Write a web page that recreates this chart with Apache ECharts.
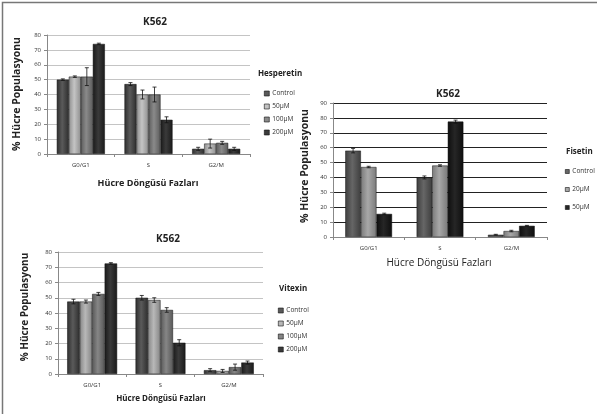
<!DOCTYPE html>
<html>
<head>
<meta charset="utf-8">
<script src="https://cdn.jsdelivr.net/npm/echarts@6/dist/echarts.min.js"></script>
<style>html,body{margin:0;padding:0;background:#fff}#c{width:597px;height:414px}</style>
</head>
<body>
<div id="c"></div>
<script>
const categories = ['G0/G1', 'S', 'G2/M'];

// Hesperetin
const hespNames = ['Control', '50µM', '100µM', '200µM'];
const hespControl = [50, 47, 3.5];
const hesp50 = [52, 40, 7];
const hesp100 = [52, 40, 7.5];
const hesp200 = [74, 23, 3.5];
const hespControlErr = [0.5, 1, 1];
const hesp50Err = [0.5, 3, 3];
const hesp100Err = [6, 5, 1];
const hesp200Err = [0.5, 2, 1];

// Fisetin
const fisNames = ['Control', '20µM', '50µM'];
const fisControl = [58, 40, 1.5];
const fis20 = [47, 48, 4];
const fis50 = [15.5, 77.5, 7.5];
const fisControlErr = [1.5, 1, 0.3];
const fis20Err = [0.5, 0.5, 0.5];
const fis50Err = [0.5, 1, 0.3];

// Vitexin
const vitNames = ['Control', '50µM', '100µM', '200µM'];
const vitControl = [47.5, 50, 2.5];
const vit50 = [47.5, 48.5, 2];
const vit100 = [52.5, 42, 4.5];
const vit200 = [72.5, 20.5, 7.5];
const vitControlErr = [1.5, 1.5, 1];
const vit50Err = [1, 1.5, 1];
const vit100Err = [1, 1.5, 2];
const vit200Err = [0.5, 2, 1];

const FONT = 'Open Sans';

function grad(base, light) {
  return {type: 'linear', x: 0, y: 0, x2: 1, y2: 0, colorStops: [
    {offset: 0, color: base}, {offset: 0.45, color: light}, {offset: 1, color: base}]};
}

const groups = [
  {key: 'H', grid: 0, gap: 0.29, names: hespNames, vals: [hespControl, hesp50, hesp100, hesp200],
   errs: [hespControlErr, hesp50Err, hesp100Err, hesp200Err],
   colors: [['#2e2e2e', '#5a5a5a'], ['#8e8e8e', '#c4c4c4'], ['#5c5c5c', '#8a8a8a'], ['#1a1a1a', '#3a3a3a']]},
  {key: 'F', grid: 1, gap: 0.345, names: fisNames, vals: [fisControl, fis20, fis50],
   errs: [fisControlErr, fis20Err, fis50Err],
   colors: [['#3e3e3e', '#666666'], ['#7a7a7a', '#a8a8a8'], ['#0e0e0e', '#262626']]},
  {key: 'V', grid: 2, gap: 0.27, names: vitNames, vals: [vitControl, vit50, vit100, vit200],
   errs: [vitControlErr, vit50Err, vit100Err, vit200Err],
   colors: [['#2e2e2e', '#5a5a5a'], ['#858585', '#b8b8b8'], ['#585858', '#868686'], ['#1a1a1a', '#3a3a3a']]}
];

const series = [];
groups.forEach(g => {
  const n = g.names.length;
  g.names.forEach((nm, i) => {
    series.push({
      type: 'bar', name: g.key + '|' + nm, xAxisIndex: g.grid, yAxisIndex: g.grid,
      data: g.vals[i], barGap: '0%', barCategoryGap: (g.gap * 100) + '%',
      itemStyle: {color: grad(g.colors[i][0], g.colors[i][1]), borderColor: '#111', borderWidth: 0.5},
      legendHoverLink: false, animation: false
    });
  });
  g.names.forEach((nm, i) => {
    series.push({
      type: 'custom', xAxisIndex: g.grid, yAxisIndex: g.grid, z: 5, animation: false,
      data: g.vals[i].map((v, k) => [k, v, g.errs[i][k]]),
      renderItem: (params, api) => {
        const x = api.value(0), v = api.value(1), e = api.value(2);
        const band = api.size([1, 0])[0];
        const inner = band * (1 - g.gap);
        const bw = inner / n;
        const c = api.coord([x, v]);
        const cx = c[0] - inner / 2 + bw * (i + 0.5);
        const top = api.coord([x, v + e])[1];
        const bot = api.coord([x, v - e])[1];
        const cap = 2;
        const st = {stroke: '#111', lineWidth: 0.8};
        return {type: 'group', children: [
          {type: 'line', shape: {x1: cx, y1: top, x2: cx, y2: bot}, style: st},
          {type: 'line', shape: {x1: cx - cap, y1: top, x2: cx + cap, y2: top}, style: st},
          {type: 'line', shape: {x1: cx - cap, y1: bot, x2: cx + cap, y2: bot}, style: st}
        ]};
      }
    });
  });
});

const gridDefs = [
  {left: 47, right: 347, top: 35, bottom: 260, max: 80, gridColor: '#c4c4c4'},
  {left: 333, right: 50, top: 103, bottom: 177, max: 90, gridColor: '#222222'},
  {left: 58, right: 334, top: 252, bottom: 40, max: 80, gridColor: '#c4c4c4'}
];

const xAxes = gridDefs.map((d, i) => ({
  type: 'category', gridIndex: i, data: categories,
  axisLine: {lineStyle: {color: '#888', width: 1}},
  axisTick: {show: true, length: 3, lineStyle: {color: '#888'}},
  axisLabel: {fontFamily: FONT, fontSize: 6, color: '#333', margin: 8}
}));
const yAxes = gridDefs.map((d, i) => ({
  type: 'value', gridIndex: i, min: 0, max: d.max, interval: 10,
  axisLine: {show: true, lineStyle: {color: '#888'}},
  axisTick: {show: true, length: 3, lineStyle: {color: '#888'}},
  splitLine: {lineStyle: {color: d.gridColor, width: i === 1 ? 1.2 : 1}},
  axisLabel: {fontFamily: FONT, fontSize: 6, color: '#333', margin: 6}
}));

function legendDef(g, left, top, gap, icon) {
  return {
    orient: 'vertical', left: left, top: top, itemGap: gap, itemWidth: icon, itemHeight: icon,
    icon: 'rect', selectedMode: false,
    data: g.names.map((n, i) => ({name: g.key + '|' + n, itemStyle: {color: g.colors[i][1], borderColor: '#111', borderWidth: 0.6}})),
    formatter: name => name.split('|')[1],
    textStyle: {fontFamily: FONT, fontSize: 6.5, color: '#333', padding: [0, 0, 0, -2]}
  };
}

const titleStyle = {fontFamily: FONT, fontSize: 10, fontWeight: 'bold', color: '#222'};
const legTitleStyle = {fontFamily: FONT, fontSize: 8, fontWeight: 'bold', color: '#222'};

const option = {
  animation: false,
  backgroundColor: '#fff',
  title: [
    {text: 'K562', left: 150, top: 12, textAlign: 'center', textStyle: titleStyle},
    {text: 'K562', left: 443, top: 84, textAlign: 'center', textStyle: titleStyle},
    {text: 'K562', left: 163, top: 229, textAlign: 'center', textStyle: titleStyle},
    {text: 'Hesperetin', left: 253, top: 65, textStyle: legTitleStyle},
    {text: 'Fisetin', left: 561, top: 143, textStyle: legTitleStyle},
    {text: 'Vitexin', left: 274, top: 280, textStyle: legTitleStyle}
  ],
  legend: [
    legendDef(groups[0], 259, 85, 6, 5),
    legendDef(groups[1], 560, 163, 11, 4),
    legendDef(groups[2], 273, 302, 6, 5)
  ],
  grid: gridDefs.map(d => ({left: d.left, right: d.right, top: d.top, bottom: d.bottom})),
  xAxis: xAxes,
  yAxis: yAxes,
  series: series,
  graphic: [
    {type: 'rect', shape: {x: 2.5, y: 2.5, width: 700, height: 600}, style: {fill: 'none', stroke: '#777', lineWidth: 1.5}, silent: true},
    {type: 'text', x: 148, y: 183, style: {text: 'Hücre Döngüsü Fazları', font: 'bold 9px "Open Sans"', fill: '#222', align: 'center', verticalAlign: 'middle'}},
    {type: 'text', x: 439, y: 263, style: {text: 'Hücre Döngüsü Fazları', font: '10px "Open Sans"', fill: '#222', align: 'center', verticalAlign: 'middle'}},
    {type: 'text', x: 161, y: 399, style: {text: 'Hücre Döngüsü Fazları', font: 'bold 8px "Open Sans"', fill: '#222', align: 'center', verticalAlign: 'middle'}},
    {type: 'text', x: 17, y: 94, rotation: Math.PI / 2, style: {text: '% Hücre Populasyonu', font: 'bold 10.5px "Open Sans"', fill: '#222', align: 'center', verticalAlign: 'middle'}},
    {type: 'text', x: 305, y: 166, rotation: Math.PI / 2, style: {text: '% Hücre Populasyonu', font: 'bold 10.5px "Open Sans"', fill: '#222', align: 'center', verticalAlign: 'middle'}},
    {type: 'text', x: 25, y: 307, rotation: Math.PI / 2, style: {text: '% Hücre Populasyonu', font: 'bold 10px "Open Sans"', fill: '#222', align: 'center', verticalAlign: 'middle'}}
  ]
};

const chart = echarts.init(document.getElementById('c'), null, {renderer: 'canvas'});
chart.setOption(option);
</script>
</body>
</html>
